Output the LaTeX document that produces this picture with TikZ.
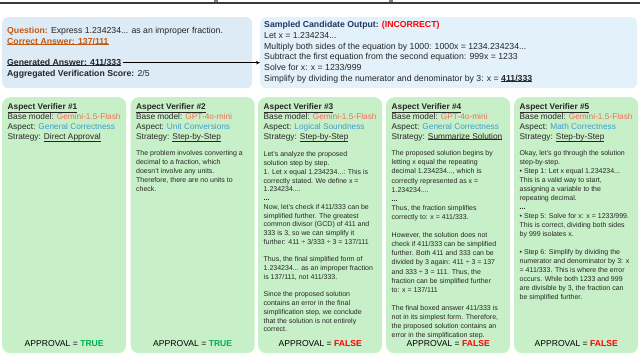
\documentclass[tikz,border=0pt]{standalone}
\usepackage{fontspec}
\setmainfont{Liberation Sans}
\usetikzlibrary{arrows.meta}
\newcommand\myul[1]{\leavevmode\vtop{\hbox{#1}\kern-0.2pt\hrule height0.5pt}}
\definecolor{qorange}{HTML}{C55A11}
\definecolor{modelc}{HTML}{EE6F57}
\definecolor{aspectc}{HTML}{3D9BD6}
\definecolor{navy}{HTML}{203864}
\definecolor{bad}{HTML}{FF0000}
\definecolor{good}{HTML}{00B050}
\definecolor{leftblue}{HTML}{DDEBF7}
\definecolor{rightblue}{HTML}{E2F1FA}
\definecolor{vgreen}{HTML}{C8F0C8}
\definecolor{txt}{HTML}{262626}
\definecolor{rulec}{HTML}{3A3A3A}
\begin{document}
\begin{tikzpicture}[x=1pt,y=-1pt,
  panel/.style={rectangle, rounded corners=6pt, inner sep=0pt, anchor=north west},
  vbox/.style={panel, fill=vgreen, rounded corners=8pt, minimum width=124pt, minimum height=256pt},
  toptext/.style={font=\fontsize{8.7}{10.7}\selectfont, text=txt, inner sep=0pt, anchor=base west},
  hd/.style={font=\fontsize{8.3}{10}\selectfont, text=txt, inner sep=0pt, anchor=base west},
  body/.style={font=\fontsize{7}{#1}\selectfont, text=txt, inner sep=0pt, anchor=north west, align=left},
  body/.default=9,
  appr/.style={font=\fontsize{8.6}{10}\selectfont, text=black, inner sep=0pt, anchor=base},
  arr/.style={-{Stealth[length=4pt,width=3.5pt]}, line width=0.8pt, black},
]
\useasboundingbox (0,0) rectangle (640,355);
% top rule
\fill[rulec] (0,2.3) rectangle (640,4.3);
\fill[gray] (214,0.4) rectangle (218,2.3);
\fill[gray] (389,0.4) rectangle (393,2.3);

% top boxes
\node[panel, fill=leftblue, minimum width=250pt, minimum height=71pt] (lbox) at (2,17) {};
\node[panel, fill=rightblue, minimum width=377pt, minimum height=71pt] (rbox) at (260,17) {};

\node[toptext] (q) at ([shift={(5,17)}]lbox.north west) {\textbf{\color{qorange}Question:} Express 1.234234... as an improper fraction.};
\node[toptext] (ca) at ([shift={(5,27.5)}]lbox.north west) {\color{qorange}\textbf{\myul{Correct Answer: 137/111}}};
\node[toptext] (gen) at ([shift={(5,48.5)}]lbox.north west) {\textbf{\myul{Generated Answer: 411/333}}};
\node[toptext] (agg) at ([shift={(5,59.5)}]lbox.north west) {\textbf{Aggregated Verification Score:} 2/5};

\node[toptext] (s0) at ([shift={(4,11)}]rbox.north west) {\textbf{\color{navy}Sampled Candidate Output:} \textbf{\color{bad}(INCORRECT)}};
\node[toptext] (s1) at ([shift={(4,21.5)}]rbox.north west) {Let x = 1.234234...};
\node[toptext] (s2) at ([shift={(4,32.2)}]rbox.north west) {Multiply both sides of the equation by 1000: 1000x = 1234.234234...};
\node[toptext] (s3) at ([shift={(4,42.9)}]rbox.north west) {Subtract the first equation from the second equation: 999x = 1233};
\node[toptext] (s4) at ([shift={(4,53.6)}]rbox.north west) {Solve for x: x = 1233/999};
\node[toptext] (s5) at ([shift={(4,64.3)}]rbox.north west) {Simplify by dividing the numerator and denominator by 3: x = \textbf{\myul{411/333}}};

\coordinate (a0) at ([shift={(2,-2.8)}]gen.base east);
\draw[arr] (a0) -- (a0 -| rbox.west);

% verifier boxes
\node[vbox] (v1) at (2,97) {};
\node[vbox] (v2) at (130.5,97) {};
\node[vbox] (v3) at (258,97) {};
\node[vbox] (v4) at (386,97) {};
\node[vbox] (v5) at (514,97) {};

% headers
\foreach \v/\n/\m/\a/\s in {v1/1/Gemini-1.5-Flash/General Correctness/Direct Approval,
  v2/2/GPT-4o-mini/Unit Conversions/Step-by-Step,
  v3/3/Gemini-1.5-Flash/Logical Soundness/Step-by-Step,
  v4/4/GPT-4o-mini/General Correctness/Summarize Solution,
  v5/5/Gemini-1.5-Flash/Math Correctness/Step-by-Step}{
  \node[hd] (\v t) at ([shift={(5.5,13)}]\v.north west) {\textbf{\myul{Aspect Verifier \#\n}}};
  \node[hd] (\v m) at ([shift={(5.5,22.7)}]\v.north west) {Base model: {\color{modelc}\m}};
  \node[hd] (\v a) at ([shift={(5.5,32.5)}]\v.north west) {Aspect: {\color{aspectc}\a}};
  \node[hd] (\v s) at ([shift={(5.5,42.3)}]\v.north west) {Strategy: \myul{\s}};
}

% bodies
\node[body] (b2) at ([shift={(5.5,53.5)}]v2.north west) {The problem involves converting a\\
decimal to a fraction, which\\
doesn't involve any units.\\
Therefore, there are no units to\\
check.};

\node[body=8.75] (b3) at ([shift={(5.5,54.5)}]v3.north west) {Let's analyze the proposed\\
solution step by step.\\
1. Let x equal 1.234234...: This is\\
correctly stated. We define x =\\
1.234234....\\
\textbf{...}\\
Now, let's check if 411/333 can be\\
simplified further. The greatest\\
common divisor (GCD) of 411 and\\
333 is 3, so we can simplify it\\
further: 411 ÷ 3/333 ÷ 3 = 137/111\\[8.75pt]
Thus, the final simplified form of\\
1.234234... as an improper fraction\\
is 137/111, not 411/333.\\[8.75pt]
Since the proposed solution\\
contains an error in the final\\
simplification step, we conclude\\
that the solution is not entirely\\
correct.};

\node[body=9.1] (b4) at ([shift={(5.5,53.5)}]v4.north west) {The proposed solution begins by\\
letting x equal the repeating\\
decimal 1.234234..., which is\\
correctly represented as x =\\
1.234234....\\
\textbf{...}\\
Thus, the fraction simplifies\\
correctly to: x = 411/333.\\[9.1pt]
However, the solution does not\\
check if 411/333 can be simplified\\
further. Both 411 and 333 can be\\
divided by 3 again: 411 ÷ 3 = 137\\
and 333 ÷ 3 = 111. Thus, the\\
fraction can be simplified further\\
to: x = 137/111\\[9.1pt]
The final boxed answer 411/333 is\\
not in its simplest form. Therefore,\\
the proposed solution contains an\\
error in the simplification step.};

\node[body] (b5) at ([shift={(5.5,53.5)}]v5.north west) {Okay, let's go through the solution\\
step-by-step.\\
• Step 1: Let x equal 1.234234...\\
This is a valid way to start,\\
assigning a variable to the\\
repeating decimal.\\
\textbf{...}\\
• Step 5: Solve for x: x = 1233/999.\\
This is correct, dividing both sides\\
by 999 isolates x.\\[9pt]
• Step 6: Simplify by dividing the\\
numerator and denominator by 3: x\\
= 411/333. This is where the error\\
occurs. While both 1233 and 999\\
are divisible by 3, the fraction can\\
be simplified further.};

% approvals
\node[appr] (p1) at ([yshift=-250pt]v1.north) {APPROVAL = \textbf{\color{good}TRUE}};
\node[appr] (p2) at ([yshift=-250pt]v2.north) {APPROVAL = \textbf{\color{good}TRUE}};
\node[appr] (p3) at ([yshift=-250pt]v3.north) {APPROVAL = \textbf{\color{bad}FALSE}};
\node[appr] (p4) at ([yshift=-250pt]v4.north) {APPROVAL = \textbf{\color{bad}FALSE}};
\node[appr] (p5) at ([yshift=-250pt]v5.north) {APPROVAL = \textbf{\color{bad}FALSE}};
\end{tikzpicture}
\end{document}
